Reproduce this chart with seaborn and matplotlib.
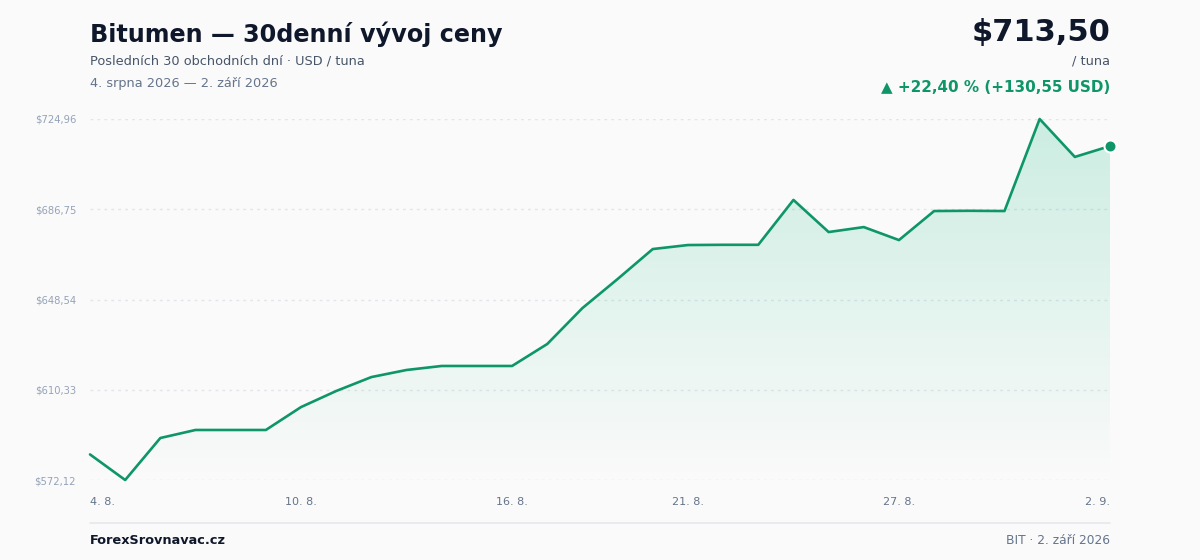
import numpy as np
import pandas as pd
import matplotlib
matplotlib.use("Agg")
import matplotlib.pyplot as plt
from matplotlib.patches import Polygon
from matplotlib.lines import Line2D
from matplotlib.colors import LinearSegmentedColormap
import seaborn as sns

# ---- data ----
days = ["4. 8.", "5. 8.", "6. 8.", "7. 8.", "8. 8.", "9. 8.", "10. 8.", "11. 8.", "12. 8.", "13. 8.",
        "14. 8.", "15. 8.", "16. 8.", "17. 8.", "18. 8.", "19. 8.", "20. 8.", "21. 8.", "22. 8.", "23. 8.",
        "24. 8.", "25. 8.", "26. 8.", "27. 8.", "28. 8.", "29. 8.", "30. 8.", "31. 8.", "1. 9.", "2. 9."]
prices = [582.95, 572.12, 589.9, 593.3, 593.3, 593.3, 603.0, 609.8, 615.7, 618.7,
          620.4, 620.4, 620.4, 629.7, 644.9, 657.2, 669.9, 671.6, 671.7, 671.7,
          690.7, 677.1, 679.2, 673.7, 686.0, 686.1, 686.0, 724.96, 708.9, 713.50]
ytick_vals = [572.12, 610.33, 648.54, 686.75, 724.96]
ytick_labels = ["$572,12", "$610,33", "$648,54", "$686,75", "$724,96"]
xtick_labels = ["4. 8.", "10. 8.", "16. 8.", "21. 8.", "27. 8.", "2. 9."]

title = "Bitumen — 30denní vývoj ceny"
subtitle = "Posledních 30 obchodních dní · USD / tuna"
date_range = "4. srpna 2026 — 2. září 2026"
price_text = "$713,50"
unit_text = "/ tuna"
change_text = "▲ +22,40 % (+130,55 USD)"
footer_left = "ForexSrovnavac.cz"
footer_right = "BIT · 2. září 2026"

df = pd.DataFrame({"idx": np.arange(len(prices)), "price": prices, "day": days})

GREEN = "#0f9668"
BG = "#fafafa"
DARK = "#0f172a"
GRAY = "#64748b"
LIGHTGRAY = "#94a3b8"

sns.set_theme(style="white")
plt.rcParams["font.family"] = ["DejaVu Sans"]

fig = plt.figure(figsize=(12, 5.6), dpi=100, facecolor=BG)
ax = fig.add_axes([90/1200, 1-480/560, 1020/1200, 361/560])
ax.set_facecolor(BG)

ymin, ymax = ytick_vals[0], ytick_vals[-1]
ax.set_xlim(0, len(prices)-1)
ax.set_ylim(ymin, ymax)

# gradient fill under the line
grad = np.linspace(0, 1, 256).reshape(-1, 1)
cmap = LinearSegmentedColormap.from_list(
    "g", [(0, (0.063, 0.725, 0.506, 0.0)), (1, (0.063, 0.725, 0.506, 0.20))])
img = ax.imshow(grad, extent=[0, len(prices)-1, ymin, ymax], origin="lower", aspect="auto",
                cmap=cmap, zorder=1)
verts = [(0, ymin)] + list(zip(df["idx"], df["price"])) + [(len(prices)-1, ymin)]
poly = Polygon(verts, closed=True, transform=ax.transData, facecolor="none", edgecolor="none")
ax.add_patch(poly)
img.set_clip_path(poly)

# grid lines
for v in ytick_vals:
    ax.axhline(v, color="#e2e5ea", lw=1, ls=(0, (2, 3)), zorder=0.5)

sns.lineplot(data=df, x="idx", y="price", ax=ax, color=GREEN, lw=1.9, zorder=3)
for l in ax.get_lines():
    if l.get_zorder() == 3:
        l.set_clip_on(False)
ax.scatter([df["idx"].iloc[-1]], [df["price"].iloc[-1]], s=75, color=GREEN, edgecolor="white",
           linewidth=1.5, zorder=4, clip_on=False)

for s in ax.spines.values():
    s.set_visible(False)
ax.set_xlabel("")
ax.set_ylabel("")
ax.set_yticks(ytick_vals)
ax.set_yticklabels(ytick_labels, fontsize=7.2, color=LIGHTGRAY)
ax.tick_params(axis="y", length=0, pad=10)
xt_pos = [days.index(d) for d in xtick_labels]
ax.set_xticks(xt_pos)
ax.set_xticklabels(xtick_labels, fontsize=8, color=GRAY)
ax.tick_params(axis="x", length=0, pad=12.5)
labs = ax.get_xticklabels()
labs[0].set_ha("left")
labs[-1].set_ha("right")

# header text
fig.text(90/1200, 1-34/560, title, fontsize=17.2, fontweight="bold", color=DARK, va="center", ha="left")
fig.text(90/1200, 1-61/560, subtitle, fontsize=9.3, color="#475569", va="center", ha="left")
fig.text(90/1200, 1-83/560, date_range, fontsize=9.3, color=GRAY, va="center", ha="left")
fig.text(1110/1200, 1-32/560, price_text, fontsize=22, fontweight="bold", color=DARK, va="center", ha="right")
fig.text(1110/1200, 1-61/560, unit_text, fontsize=9.3, color="#475569", va="center", ha="right")
fig.text(1110/1200, 1-87/560, change_text, fontsize=10.9, fontweight="bold", color=GREEN, va="center", ha="right")

# footer
fig.add_artist(Line2D([90/1200, 1110/1200], [1-523/560, 1-523/560], color="#e5e7eb", lw=1.2,
                      transform=fig.transFigure))
fig.text(90/1200, 1-541/560, footer_left, fontsize=9.3, fontweight="bold", color=DARK, va="center", ha="left")
fig.text(1110/1200, 1-541/560, footer_right, fontsize=8.8, color=GRAY, va="center", ha="right")

fig.savefig("out.png", dpi=100, facecolor=BG)
